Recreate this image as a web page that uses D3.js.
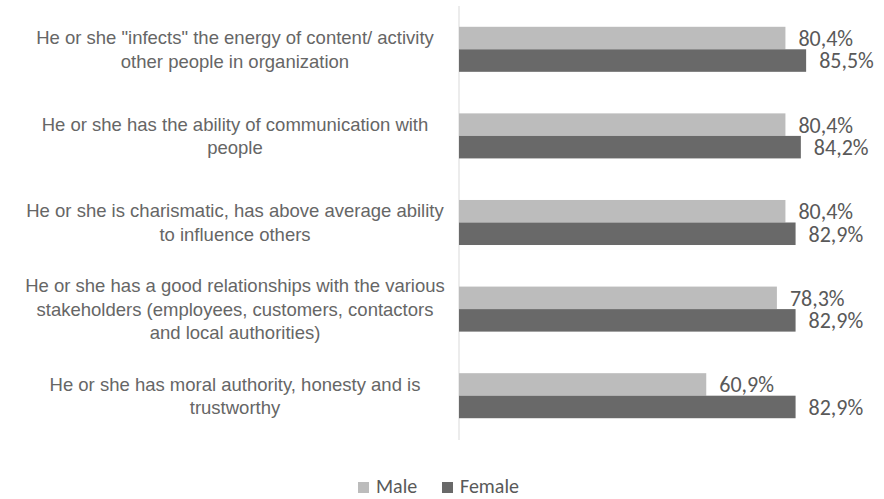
<!DOCTYPE html>
<html lang="en">
<head>
  <meta charset="UTF-8">
  <title>Leadership traits by gender</title>
  <script src="https://d3js.org/d3.v7.min.js"></script>
  <style>
    body {
      margin: 0;
      background: #fff;
    }
    .cat {
      font-family: "Liberation Sans Narrow", "Arial Narrow", "Liberation Sans", sans-serif;
      font-size: 18.5px;
      fill: #666;
    }
    .val, .legend {
      font-family: Carlito, Lato, "Open Sans", sans-serif;
      fill: #595959;
    }
  </style>
</head>
<body>
  <svg id="chart" width="884" height="499"></svg>

  <script>
    // categories, each split into the lines shown in the picture
    const categories = [
      ["He or she \"infects\" the energy of content/ activity", "other people in organization"],
      ["He or she has the ability of communication with", "people"],
      ["He or she is charismatic, has above average ability", "to influence others"],
      ["He or she has a good relationships with the various", "stakeholders (employees, customers, contactors", "and local authorities)"],
      ["He or she has moral authority, honesty and is", "trustworthy"]
    ];
    const seriesNames = ["Male", "Female"];
    const male = [80.4, 80.4, 80.4, 78.3, 60.9];
    const female = [85.5, 84.2, 82.9, 82.9, 82.9];
    const colors = ["#bcbcbc", "#696969"];

    const svg = d3.select("#chart");

    const x = d3.scaleLinear().domain([0, 100]).range([459, 865]);
    const y = d3.scaleBand()
      .domain(d3.range(categories.length))
      .range([6, 439])
      .paddingInner(0.48)
      .paddingOuter(0.24);
    const ySub = d3.scaleBand()
      .domain(seriesNames)
      .range([0, y.bandwidth()]);

    const rows = categories.map((c, i) => ({
      i,
      lines: c,
      values: [
        { name: "Male", v: male[i] },
        { name: "Female", v: female[i] }
      ]
    }));

    // vertical axis line
    svg.append("line")
      .attr("x1", x(0)).attr("x2", x(0))
      .attr("y1", 6).attr("y2", 440)
      .attr("stroke", "#d9d9d9")
      .attr("stroke-width", 1);

    const group = svg.append("g")
      .selectAll("g")
      .data(rows)
      .join("g")
      .attr("transform", d => `translate(0,${y(d.i)})`);

    group.selectAll("rect")
      .data(d => d.values)
      .join("rect")
      .attr("x", x(0))
      .attr("y", d => ySub(d.name))
      .attr("width", d => x(d.v) - x(0))
      .attr("height", ySub.bandwidth())
      .attr("fill", d => colors[seriesNames.indexOf(d.name)]);

    group.selectAll("text.val")
      .data(d => d.values)
      .join("text")
      .attr("class", "val")
      .attr("x", d => x(d.v) + 13)
      .attr("y", d => ySub(d.name) + ySub.bandwidth() / 2)
      .attr("dy", "0.36em")
      .attr("font-size", 22)
      .text(d => d.v.toFixed(1).replace(".", ",") + "%");

    // category labels, centred on each group
    const lineH = 23.5;
    group.append("text")
      .attr("class", "cat")
      .attr("text-anchor", "middle")
      .each(function (d) {
        const t = d3.select(this);
        const n = d.lines.length;
        d.lines.forEach((ln, k) => {
          t.append("tspan")
            .attr("x", 235)
            .attr("y", y.bandwidth() / 2 + (k - (n - 1) / 2) * lineH)
            .attr("dy", "0.36em")
            .text(ln);
        });
      });

    // legend
    const legend = svg.append("g");
    const legendX = [358, 442];
    seriesNames.forEach((s, i) => {
      legend.append("rect")
        .attr("x", legendX[i]).attr("y", 482)
        .attr("width", 11).attr("height", 11)
        .attr("fill", colors[i]);
      legend.append("text")
        .attr("class", "legend")
        .attr("x", legendX[i] + 18)
        .attr("y", 493)
        .attr("font-size", 20)
        .text(s);
    });
  </script>
</body>
</html>
